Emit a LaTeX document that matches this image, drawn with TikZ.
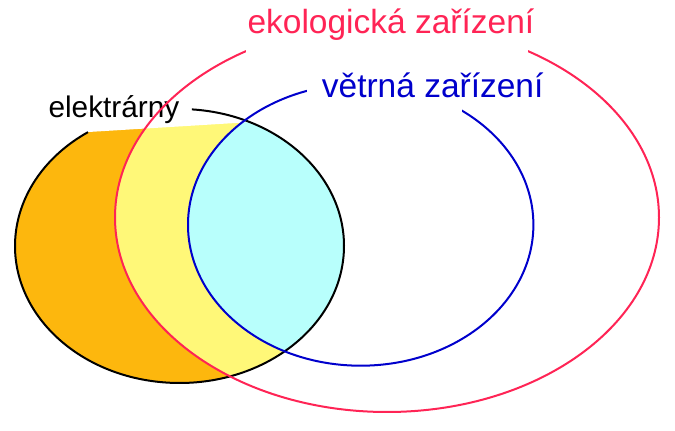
\documentclass[tikz,border=0pt]{standalone}
\usepackage{fontspec}
\newfontfamily\labfont{Liberation Sans}
\definecolor{orangefill}{RGB}{253,183,13}
\definecolor{yellowfill}{RGB}{255,248,120}
\definecolor{cyanfill}{RGB}{184,255,252}
\definecolor{ekored}{RGB}{255,36,85}
\definecolor{windblue}{RGB}{0,0,204}
\tikzset{
  outline/.style={line width=2pt},
  labeltext/.style={inner sep=0pt, anchor=base west, font=\labfont\fontsize{33.5}{40}\selectfont},
  maskbox/.style={fill=white, draw=none}
}
\begin{document}
\begin{tikzpicture}[x=1pt,y=1pt]
\useasboundingbox (0,0) rectangle (675,431);
% fills
\fill[orangefill] (179.5,185) ellipse[x radius=164.5, y radius=137];
\begin{scope}
  \clip (387,213.5) ellipse[x radius=272, y radius=194.5];
  \fill[yellowfill] (179.5,185) ellipse[x radius=164.5, y radius=137];
  \clip (360.7,206.2) ellipse[x radius=172.7, y radius=140.9];
  \fill[cyanfill] (179.5,185) ellipse[x radius=164.5, y radius=137];
\end{scope}
% mask under the label elektrarny
\fill[maskbox] (60,297.25) -- (270,310.1) -- (270,336) -- (60,336) -- cycle;
% black outline (part not hidden by the label)
\draw[outline, black] (179.5,185) ++(85.7:164.5 and 137) arc[start angle=85.7, end angle=-236.2, x radius=164.5, y radius=137];
\node[labeltext, text=black, font=\labfont\fontsize{29.8}{36}\selectfont] (elektrarny) at (48.3,313.3) {elektrárny};
% red ellipse
\draw[outline, ekored] (387,213.5) ellipse[x radius=272, y radius=194.5];
\fill[maskbox] (245.5,375) rectangle (527.5,431);
\node[labeltext, text=ekored] (ekolog) at (247.3,397.7) {ekologická zařízení};
% blue ellipse
\draw[outline, windblue] (360.7,206.2) ellipse[x radius=172.7, y radius=140.9];
\fill[maskbox] (307,318) rectangle (461.5,373);
\node[labeltext, text=windblue] (vetrna) at (321.7,333.3) {větrná zařízení};
\end{tikzpicture}
\end{document}
